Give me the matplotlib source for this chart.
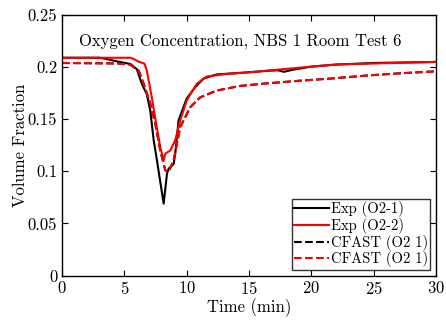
import numpy as np
import matplotlib
matplotlib.use("Agg")
import matplotlib.pyplot as plt

plt.rcParams['font.family'] = 'serif'
plt.rcParams['font.serif'] = ['cmr10', 'DejaVu Serif']
plt.rcParams['mathtext.fontset'] = 'cm'
plt.rcParams['axes.formatter.use_mathtext'] = True

# Exp (O2-1)
t_exp1 = [0, 3.0, 3.5, 4.4, 5.5, 6.0, 6.4, 6.8, 7.08, 7.35, 7.62, 8.15, 8.42, 8.55, 8.95,
          9.08, 9.35, 10.0, 10.7, 11.35, 12.4, 14.3, 16.5, 17.3, 17.8, 18.5, 20, 22, 25, 30]
o2_exp1 = [0.209, 0.209, 0.208, 0.2055, 0.203, 0.198, 0.184, 0.174, 0.158, 0.130, 0.110, 0.069,
           0.098, 0.1025, 0.107, 0.117, 0.149, 0.170, 0.181, 0.189, 0.193, 0.1945, 0.1965, 0.197,
           0.1955, 0.1975, 0.2005, 0.2025, 0.204, 0.205]

# Exp (O2-2)
t_exp2 = [0, 5.5, 5.8, 6.2, 6.6, 6.8, 7.2, 7.6, 7.88, 8.15, 8.28, 8.68, 9.08, 9.48, 10.0,
          10.8, 11.6, 13.2, 15, 17.7, 20, 22, 25, 30]
o2_exp2 = [0.209, 0.209, 0.2075, 0.205, 0.2035, 0.1967, 0.171, 0.142, 0.123, 0.1105, 0.117,
           0.120, 0.130, 0.149, 0.168, 0.184, 0.191, 0.1935, 0.195, 0.198, 0.2005, 0.2025,
           0.2035, 0.205]

# CFAST (O2 1)
t_cfast = [0, 4.5, 5.47, 6.15, 6.55, 7.08, 7.48, 7.88, 8.28, 8.55, 8.95, 9.48, 10.28, 11.08,
           12.4, 14.3, 16.5, 19.1, 21.5, 24.5, 27, 30]
o2_cfast = [0.204, 0.2035, 0.2024, 0.1967, 0.184, 0.165, 0.1457, 0.120, 0.101, 0.0995, 0.1105,
            0.1425, 0.1615, 0.171, 0.1775, 0.182, 0.1845, 0.187, 0.189, 0.192, 0.194, 0.196]

fig = plt.figure(figsize=(4.46, 3.2), dpi=100)
ax = fig.add_axes([0.139, 0.139, 0.839, 0.814])

ax.plot(t_exp1, o2_exp1, 'k-', lw=1.5, label='Exp (O2-1)')
ax.plot(t_exp2, o2_exp2, 'r-', lw=1.5, label='Exp (O2-2)')
ax.plot(t_cfast, o2_cfast, 'k--', lw=1.5, label='CFAST (O2 1)')
ax.plot(t_cfast, o2_cfast, 'r--', lw=1.5, label='CFAST (O2 1)')

ax.set_xlim(0, 30)
ax.set_ylim(0, 0.25)
ax.set_xticks([0, 5, 10, 15, 20, 25, 30])
ax.set_yticks([0, 0.05, 0.1, 0.15, 0.2, 0.25])
ax.set_yticklabels(['0', '0.05', '0.1', '0.15', '0.2', '0.25'])
ax.tick_params(direction='in', top=True, right=True, labelsize=12, length=4, width=0.8)
for s in ax.spines.values():
    s.set_linewidth(1.0)

ax.set_xlabel('Time (min)', fontsize=12, labelpad=1)
ax.set_ylabel('Volume Fraction', fontsize=12, labelpad=0)
ax.text(14.3, 0.225, 'Oxygen Concentration, NBS 1 Room Test 6', ha='center', va='center', fontsize=12)

leg = ax.legend(loc='lower right', fontsize=10.5, frameon=True, fancybox=False, edgecolor='k',
                borderpad=0.15, labelspacing=0.05, handlelength=2.4, handletextpad=0.15,
                borderaxespad=0.4)
leg.get_frame().set_linewidth(1.0)

fig.savefig('out.png', dpi=100)
